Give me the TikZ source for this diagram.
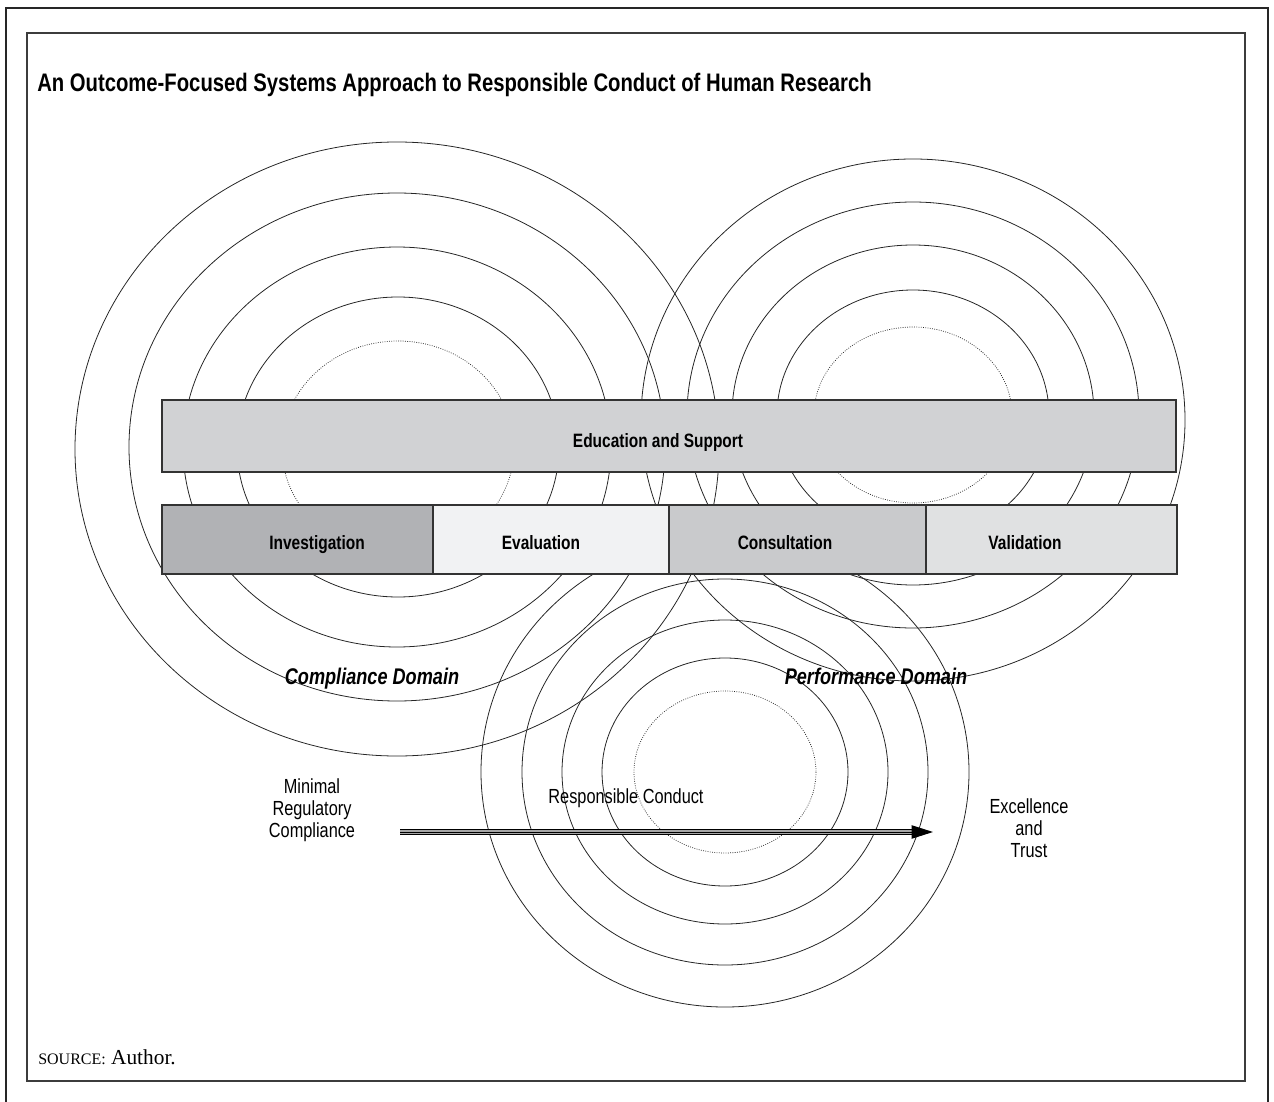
\documentclass[tikz,border=0pt]{standalone}
\usepackage{fontspec}
\setmainfont{Liberation Sans}[FakeStretch=0.8]
\newfontfamily\srcfont{Liberation Serif}
\usetikzlibrary{arrows.meta,calc}
\definecolor{edufill}{RGB}{209,210,212}
\definecolor{invfill}{RGB}{177,178,181}
\definecolor{evafill}{RGB}{241,242,243}
\definecolor{confill}{RGB}{201,202,204}
\definecolor{valfill}{RGB}{224,225,226}
\definecolor{framegray}{RGB}{60,60,60}

\begin{document}
\begin{tikzpicture}[x=0.75pt,y=0.75pt,yscale=-1,xscale=1,
	ring/.style={line width=0.6pt, black!85},
	core/.style={line width=0.55pt, black!85, dash pattern=on 0.6pt off 1.1pt},
	bar/.style={draw=black!80, line width=1.1pt},
	barlabel/.style={font=\fontsize{14.5}{17}\selectfont\bfseries, inner sep=0pt, anchor=base},
	domainlabel/.style={font=\fontsize{17}{20}\selectfont\bfseries\itshape, inner sep=0pt, anchor=base},
	plain/.style={font=\fontsize{15.3}{16.5}\selectfont, align=center, inner sep=0pt}]
	\useasboundingbox (0,0) rectangle (1274,1102);

	% frames
	\draw [line width=1.9pt, black!85] (6,1102) -- (6,8) -- (1268,8) -- (1268,1102);
	\draw [line width=1.1pt, framegray] (27,33) rectangle (1245,1081);

	% compliance rings
	\draw [ring] (397,449) ellipse [x radius=322, y radius=307];
	\draw [ring] (397,447) ellipse [x radius=268, y radius=254];
	\draw [ring] (397,447) ellipse [x radius=214, y radius=200];
	\draw [ring] (398,447) ellipse [x radius=161, y radius=150];
	\draw [core] (398,448) ellipse [x radius=116, y radius=107];

	% performance rings
	\draw [ring] (913,420) ellipse [x radius=272, y radius=261];
	\draw [ring] (913,415) ellipse [x radius=226, y radius=213];
	\draw [ring] (913,415) ellipse [x radius=181, y radius=170];
	\draw [ring] (913,415) ellipse [x radius=136, y radius=125];
	\draw [core] (913,415) ellipse [x radius=99, y radius=88];

	% responsible conduct rings
	\draw [ring] (725,772) ellipse [x radius=244, y radius=235];
	\draw [ring] (725,772) ellipse [x radius=203, y radius=193];
	\draw [ring] (725,772) ellipse [x radius=163, y radius=152];
	\draw [ring] (725,772) ellipse [x radius=123, y radius=114];
	\draw [core] (725,772) ellipse [x radius=91, y radius=81];

	% bars
	\draw [bar, fill=edufill] (162,400) rectangle (1176,472);
	\draw [bar, fill=invfill] (162,505) rectangle (433,574);
	\draw [bar, fill=evafill] (433,505) rectangle (669,574);
	\draw [bar, fill=confill] (669,505) rectangle (926,574);
	\draw [bar, fill=valfill] (926,505) rectangle (1177,574);

	\node [barlabel] (edu) at (658,447) {Education and Support};
	\node [barlabel] (invest) at (317,549) {Investigation};
	\node [barlabel] (evalu) at (541,549) {Evaluation};
	\node [barlabel] (consult) at (785,549) {Consultation};
	\node [barlabel] (valid) at (1025,549) {Validation};

	\node [domainlabel] (compl) at (372,684) {Compliance Domain};
	\node [domainlabel] (perf) at (876,684) {Performance Domain};

	\node [plain] (minimal) at (312,810) {Minimal\\Regulatory\\Compliance};
	\node [plain] (respcond) at (626,798) {Responsible Conduct};
	\node [plain] (excel) at (1029,828) {Excellence\\and\\Trust};

	% progression arrow
	\coordinate (arrowtail) at (400,832);
	\coordinate (arrowtip) at (933,832);
	\draw [line width=0.8pt, double=black!35, double distance=3.4pt, shorten >=14pt] (arrowtail) -- (arrowtip);
	\draw [line width=0.45pt, black] (arrowtail) -- ($(arrowtip)+(-20,0)$);
	\draw [-{Triangle[length=16pt,width=10pt]}, line width=0.8pt] ($(arrowtip)+(-21,0)$) -- (arrowtip);

	\node [anchor=base west, inner sep=0pt, font=\fontsize{19}{22}\selectfont\bfseries] (title) at (37,92)
		{An Outcome-Focused Systems Approach to Responsible Conduct of Human Research};
	\node [anchor=base west, inner sep=0pt, font=\srcfont\fontsize{16}{19}\selectfont] (source) at (38,1064)
		{{\fontsize{12}{14}\selectfont SOURCE:} Author.};
\end{tikzpicture}
\end{document}
